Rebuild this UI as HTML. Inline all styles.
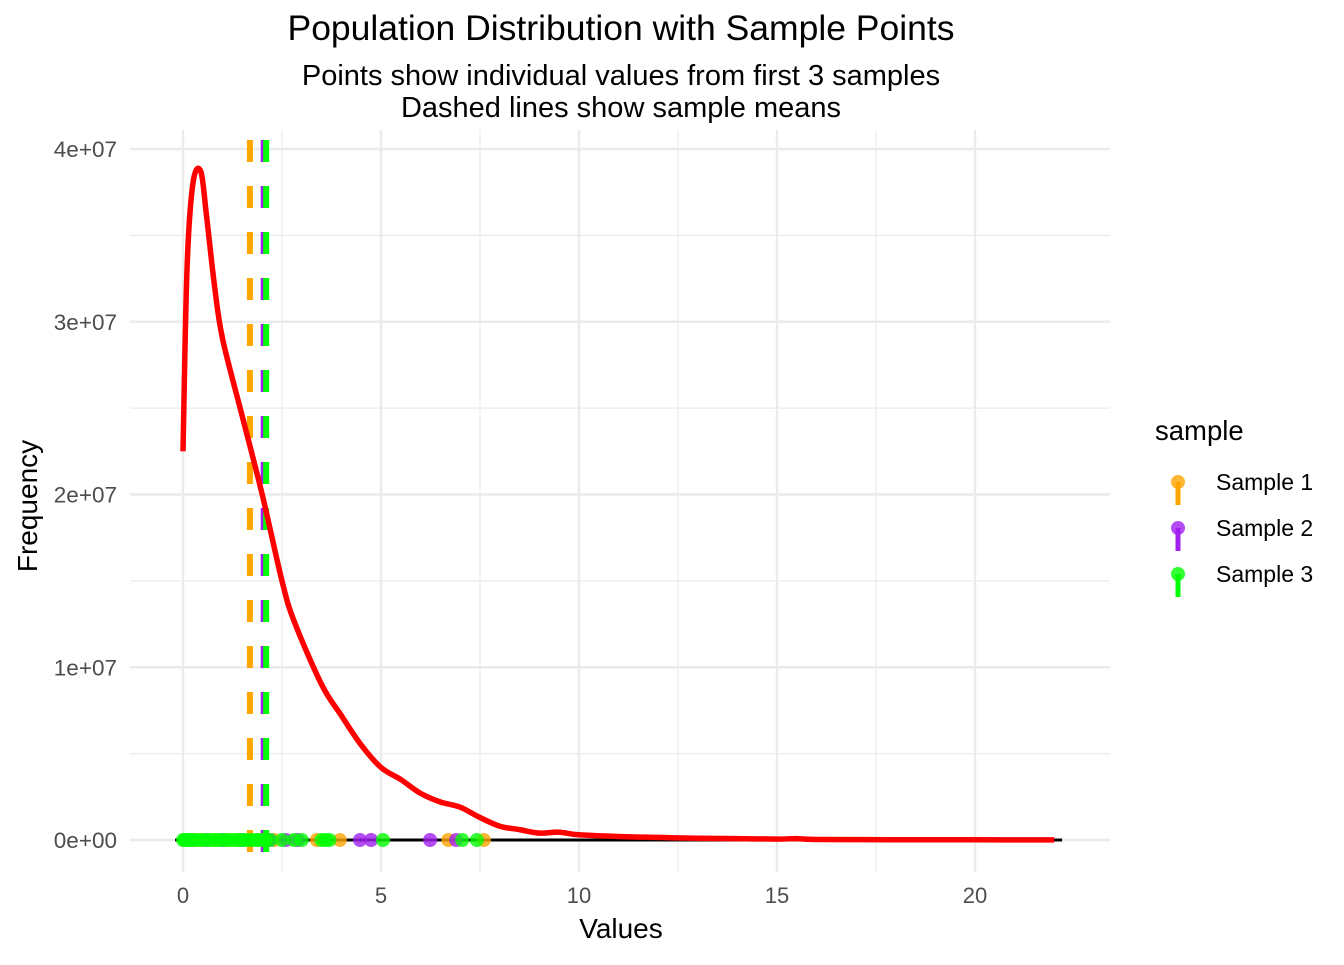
<!DOCTYPE html>
<html><head><meta charset="utf-8"><style>
body{margin:0;background:#fff;font-family:"Liberation Sans",sans-serif}
svg text{font-family:"Liberation Sans",sans-serif}
</style></head><body>
<svg id="chart" width="1344" height="960" xmlns="http://www.w3.org/2000/svg">
<text x="621" y="40" font-size="35.5" text-anchor="middle">Population Distribution with Sample Points</text>
<text x="621" y="85" font-size="29" text-anchor="middle">Points show individual values from first 3 samples</text>
<text x="621" y="117" font-size="29" text-anchor="middle">Dashed lines show sample means</text>
<g id="grid"></g>
<g id="plot"></g>
<g id="axes"></g>
<text x="621" y="938" font-size="28" text-anchor="middle">Values</text>
<text transform="translate(37,506) rotate(-90)" font-size="28" text-anchor="middle">Frequency</text>
<g>
<text x="1155" y="440" font-size="27.5">sample</text>
<g id="legend-items"></g>
</g>
</svg>
<script>
const densX=[0,0.1,0.25,0.45,0.6,0.8,1.0,1.5,2.0,2.5,2.8,3.5,4.0,4.5,5.0,5.5,6.0,6.5,7.0,7.5,8.0,8.5,9.0,9.5,10,11,12,13,14,15,15.5,16,18,20,22];
const densY=[2.25e7,3.3e7,3.8e7,3.87e7,3.6e7,3.2e7,2.9e7,2.45e7,2.0e7,1.5e7,1.27e7,0.9e7,0.72e7,0.55e7,0.42e7,0.35e7,0.27e7,0.22e7,0.19e7,0.13e7,0.08e7,0.06e7,0.04e7,0.045e7,0.03e7,0.02e7,0.015e7,0.01e7,0.008e7,0.005e7,0.008e7,0.003e7,0.002e7,0.001e7,0.0005e7];
const sampleNames=["Sample 1","Sample 2","Sample 3"];
const sampleColors=["#FFA500","#A020F0","#00FF00"];
const sampleMeans=[1.69,2.0,2.1];
const s1=[0.1,0.3,0.5,0.8,1.1,1.4,1.7,2.0,2.3,3.38,3.96,6.7,7.6];
const s2=[0.2,0.6,1.0,1.5,1.9,2.2,2.6,2.9,4.47,4.75,6.24,6.9];
const s3=[0,0.05,0.1,0.15,0.2,0.3,0.4,0.5,0.6,0.7,0.8,0.9,1.0,1.1,1.2,1.3,1.4,1.5,1.6,1.7,1.8,1.9,2.0,2.1,2.2,2.5,2.8,3.0,3.5,3.6,3.7,5.05,7.05,7.42];
const xTicks=[0,5,10,15,20];
const yTicks=[0,1e7,2e7,3e7,4e7];
const yLabels=["0e+00","1e+07","2e+07","3e+07","4e+07"];
const NS="http://www.w3.org/2000/svg";
const X=v=>183+v*39.6, Y=v=>840-v/1e7*172.75;
function mk(t,a,p){const e=document.createElementNS(NS,t);for(const k in a)e.setAttribute(k,a[k]);document.getElementById(p).appendChild(e);return e;}
const L=130,R=1110,T=130,B=872;
[2.5,7.5,12.5,17.5].forEach(v=>{const e=mk('line',{x1:X(v),x2:X(v),y1:T,y2:B,stroke:'#ebebeb','stroke-width':1.2},'grid');});
[0.5e7,1.5e7,2.5e7,3.5e7].forEach(v=>{const e=mk('line',{x1:L,x2:R,y1:Y(v),y2:Y(v),stroke:'#ebebeb','stroke-width':1.2},'grid');});
xTicks.forEach(v=>{const e=mk('line',{x1:X(v),x2:X(v),y1:T,y2:B,stroke:'#ebebeb','stroke-width':2.4},'grid');
const t=mk('text',{x:X(v),y:903,'font-size':22,fill:'#4d4d4d','text-anchor':'middle'},'axes');t.textContent=v;});
yTicks.forEach((v,i)=>{const e=mk('line',{x1:L,x2:R,y1:Y(v),y2:Y(v),stroke:'#ebebeb','stroke-width':2.4},'grid');
const t=mk('text',{x:117,y:Y(v)+8,'font-size':22.5,fill:'#4d4d4d','text-anchor':'end'},'axes');t.textContent=yLabels[i];});
let e=mk('line',{x1:X(-0.2),x2:X(22.2),y1:Y(0),y2:Y(0),stroke:'#000','stroke-width':3},'plot');

const widths=[6,3,6];
sampleMeans.forEach((m,i)=>{const l=mk('line',{x1:X(m),x2:X(m),y1:140,y2:B,stroke:sampleColors[i],'stroke-width':widths[i],'stroke-dasharray':'22 24'},'plot');});
[s1,s2,s3].forEach((arr,i)=>arr.forEach(v=>{const c=mk('circle',{cx:X(v),cy:Y(0),r:7,fill:sampleColors[i],'fill-opacity':0.8},'plot');}));
const P=densX.map((v,i)=>[X(v),Y(densY[i])]);
let d='M'+P[0][0].toFixed(1)+','+P[0][1].toFixed(1);
for(let i=0;i<P.length-1;i++){const p0=P[Math.max(0,i-1)],p1=P[i],p2=P[i+1],p3=P[Math.min(P.length-1,i+2)];
const c1=[p1[0]+(p2[0]-p0[0])/6,p1[1]+(p2[1]-p0[1])/6],c2=[p2[0]-(p3[0]-p1[0])/6,p2[1]-(p3[1]-p1[1])/6];
d+='C'+c1.map(n=>n.toFixed(1)).join(',')+' '+c2.map(n=>n.toFixed(1)).join(',')+' '+p2.map(n=>n.toFixed(1)).join(',');}
e=mk('path',{d:d,fill:'none',stroke:'#ff0000','stroke-width':5.5,'stroke-linejoin':'round'},'plot');

sampleNames.forEach((n,i)=>{const y=482+i*46;
const l=mk('line',{x1:1178,x2:1178,y1:y,y2:y+23,stroke:sampleColors[i],'stroke-width':5},'legend-items');
const c=mk('circle',{cx:1178,cy:y,r:7,fill:sampleColors[i],'fill-opacity':0.8},'legend-items');
const t=mk('text',{x:1216,y:y+8,'font-size':23},'legend-items');t.textContent=n;});
</script>
</body></html>
